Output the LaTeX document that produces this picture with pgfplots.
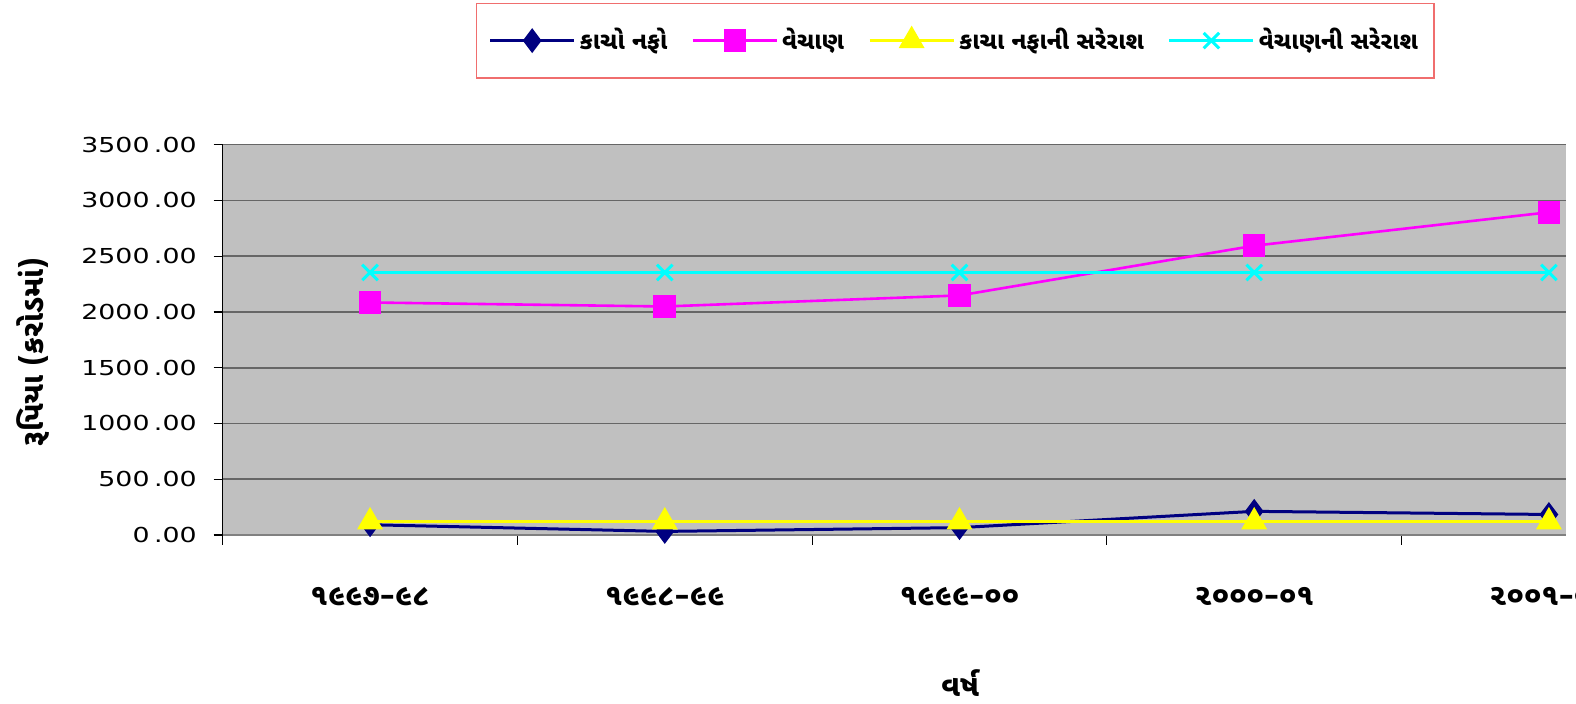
\documentclass[border=0pt]{standalone}
\usepackage{graphicx}
\usepackage{fontspec}
\setmainfont{DejaVu Sans}
\newfontfamily\guj[Script=Gujarati]{Noto Sans Gujarati UI}
\usepackage{pgfplots}
\pgfplotsset{compat=1.18}
\definecolor{bgray}{RGB}{192,192,192}
\definecolor{navy}{RGB}{0,0,128}
\definecolor{mag}{RGB}{255,0,255}
\definecolor{yel}{RGB}{255,255,0}
\definecolor{cya}{RGB}{0,255,255}
\definecolor{lred}{RGB}{240,110,110}
\newcommand{\yr}[2]{{\guj\bfseries #1}{\bfseries --}{\guj\bfseries #2}}
\newcommand{\yl}[1]{\scalebox{1.3}[1]{#1}}
\begin{document}
\begin{tikzpicture}
\clip (0,0) rectangle (788pt,352pt);
\begin{axis}[
  at={(111.35pt,84.5pt)}, anchor=south west,
  scale only axis, width=671.65pt, height=195.15pt,
  xmin=-0.5, xmax=4.058, ymin=0, ymax=3500,
  clip=false,
  axis background/.style={fill=bgray},
  axis x line*=bottom, axis y line*=left,
  x axis line style={draw=black!50, line width=1pt},
  y axis line style={draw=black, line width=0.8pt},
  ytick={0,500,...,3500},
  yticklabels={\yl{0\,.00},\yl{500\,.00},\yl{1000\,.00},\yl{1500\,.00},\yl{2000\,.00},\yl{2500\,.00},\yl{3000\,.00},\yl{3500\,.00}},
  yticklabel style={font=\fontsize{10.3pt}{12pt}\selectfont, xshift=-5pt},
  ymajorgrids, grid style={draw=black!60, line width=0.8pt},
  xtick={0,1,2,3,4},
  xticklabels={\yr{૧૯૯૭}{૯૮},\yr{૧૯૯૮}{૯૯},\yr{૧૯૯૯}{૦૦},\yr{૨૦૦૦}{૦૧},\yr{૨૦૦૧}{૦૨}},
  xticklabel style={font=\fontsize{15pt}{17pt}\selectfont, yshift=-18pt},
  major x tick style={draw=none},
  minor xtick={-0.5,0.5,1.5,2.5,3.5},
  minor x tick style={draw=black, line width=0.6pt},
  major y tick style={draw=black, line width=0.6pt},
  tick align=outside, major tick length=4.5pt, minor tick length=5pt,
  ylabel={\guj\bfseries રૂપિયા (કરોડમાં)},
  ylabel style={at={(axis description cs:-0.141,0.469)}, anchor=center, font=\fontsize{15pt}{17pt}\selectfont},
  xlabel={\guj\bfseries વર્ષ},
  xlabel style={at={(axis description cs:0.549,-0.379)}, anchor=center, font=\fontsize{15pt}{17pt}\selectfont},
  legend columns=4,
  legend style={at={(axis description cs:0.5454,1.2666)}, anchor=center,
    draw=lred, line width=0.8pt, inner xsep=6pt, inner ysep=10.5pt,
    font=\guj\bfseries\fontsize{12pt}{14pt}\selectfont,
    /tikz/every even column/.append style={column sep=10pt}},
  legend image code/.code={\draw[mark repeat=2,mark phase=2] plot coordinates {(0pt,0pt)(21pt,0pt)(42pt,0pt)};},
]
\addplot[navy, line width=1.5pt, mark=diamond*, mark size=5pt, mark options={solid}]
  coordinates {(0,92)(1,32)(2,66)(3,212)(4,184)};
\addlegendentry{કાચો નફો}
\addplot[mag, line width=1.3pt, mark=square*, mark size=5pt, mark options={solid}]
  coordinates {(0,2085)(1,2049)(2,2148)(3,2594)(4,2894)};
\addlegendentry{વેચાણ}
\addplot[yel, line width=1.5pt, mark=triangle*, mark size=6pt, mark options={solid}]
  coordinates {(0,117)(1,117)(2,117)(3,117)(4,117)};
\addlegendentry{કાચા નફાની સરેરાશ}
\addplot[cya, line width=1.5pt, mark=x, mark size=5.5pt, mark options={solid}]
  coordinates {(0,2354)(1,2354)(2,2354)(3,2354)(4,2354)};
\addlegendentry{વેચાણની સરેરાશ}
\end{axis}
\end{tikzpicture}
\end{document}
